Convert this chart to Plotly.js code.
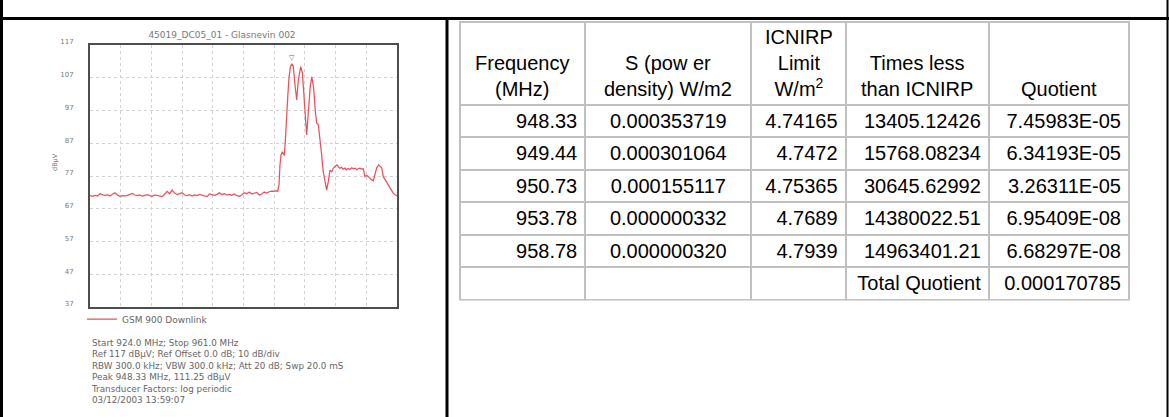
<!DOCTYPE html>
<html>
<head>
<meta charset="utf-8">
<script src="https://cdn.plot.ly/plotly-3.0.1.min.js"></script>
<style>
html,body{margin:0;padding:0;background:#ffffff;}
#chart{width:1169px;height:417px;}
</style>
</head>
<body>
<div id="chart"></div>
<script>
// ---------------- data ----------------
const freqMHz = [
  924.0,924.3,924.6,924.9,925.2,925.5,925.8,926.1,926.4,926.7,
  927.0,927.3,927.6,927.9,928.2,928.5,928.8,929.1,929.4,929.7,
  930.0,930.3,930.6,930.9,931.2,931.5,931.8,932.1,932.4,932.7,
  933.0,933.3,933.6,933.9,934.2,934.5,934.8,935.1,935.4,935.7,
  936.0,936.3,936.6,936.9,937.2,937.5,937.8,938.1,938.4,938.7,
  939.0,939.3,939.6,939.9,940.2,940.5,940.8,941.1,941.4,941.7,
  942.0,942.3,942.6,942.9,943.2,943.5,943.8,944.1,944.4,944.7,
  945.0,945.3,945.6,945.9,946.2,946.5,946.62,946.78,946.9,947.02,
  947.18,947.3,947.42,947.55,947.7,947.85,947.98,948.15,948.33,948.5,
  948.7,948.91,949.1,949.39,949.6,949.8,950.0,950.11,950.3,950.55,
  950.73,950.95,951.15,951.32,951.52,951.7,951.92,952.1,952.24,952.52,
  952.72,952.92,953.13,953.35,953.53,953.78,953.95,954.13,954.3,954.5,
  954.73,954.9,955.1,955.34,955.55,955.75,955.94,956.15,956.35,956.54,
  956.75,956.94,957.14,957.35,957.55,957.75,957.95,958.15,958.35,958.55,
  958.78,959.0,959.15,959.35,959.55,959.76,960.0,960.16,960.4,960.56,
  960.8,961.0
];
const levelDbuv = [
  71.0,70.8,71.1,70.9,71.6,71.2,71.0,71.3,70.9,71.4,
  71.9,71.2,70.8,71.0,70.9,71.1,71.3,71.7,71.2,71.0,
  71.2,70.9,71.1,71.3,71.0,70.8,71.2,71.0,70.9,70.7,
  71.5,72.3,71.6,72.7,71.8,71.3,71.6,71.9,71.2,71.0,
  71.3,70.9,71.2,71.0,71.4,71.1,70.8,70.7,71.5,71.3,
  71.1,71.4,71.9,71.3,71.6,71.2,71.4,71.1,71.5,71.0,
  70.8,71.3,71.9,71.6,72.1,71.5,71.8,72.0,71.2,71.5,
  72.1,71.8,72.2,72.4,72.3,72.5,72.2,74.3,80.5,83.4,
  84.4,84.0,83.3,88.0,96.6,102.0,106.8,110.3,111.25,110.5,
  105.0,100.2,106.0,110.4,108.5,101.0,93.0,89.5,96.0,104.5,
  107.3,104.0,97.0,93.1,92.6,89.0,83.4,78.5,76.3,72.7,
  75.3,78.8,78.3,79.5,79.9,80.4,79.8,79.3,79.7,79.1,
  79.4,78.9,79.3,79.0,79.5,79.2,79.4,78.9,79.3,79.4,
  79.1,79.2,76.8,77.2,76.8,76.2,75.8,75.6,77.5,79.5,
  80.4,80.0,79.5,76.8,76.0,75.3,74.3,73.7,72.5,71.7,
  71.2,71.0
];
const peakFreq = 948.33;
const peakLevel = 111.25;
const yTickVals = [37,47,57,67,77,87,97,107,117];
const xRange = [924, 961];
const yRange = [37, 117];
const chartTitle = '45019_DC05_01 - Glasnevin 002';
const seriesName = 'GSM 900 Downlink';
const yTitle = 'dBµV';
const infoLines = [
  'Start 924.0 MHz; Stop 961.0 MHz',
  'Ref 117 dBµV; Ref Offset 0.0 dB; 10 dB/div',
  'RBW 300.0 kHz; VBW 300.0 kHz; Att 20 dB; Swp 20.0 mS',
  'Peak 948.33 MHz, 111.25 dBµV',
  'Transducer Factors: log periodic',
  '03/12/2003 13:59:07'
];

const tableHeader = [
  'Frequency<br>(MHz)',
  'S (pow er<br>density) W/m2',
  'ICNIRP<br>Limit<br>W/m<sup>2</sup>',
  'Times less<br>than ICNIRP',
  'Quotient'
];
const colFrequency = ['948.33','949.44','950.73','953.78','958.78',''];
const colPowerDensity = ['0.000353719','0.000301064','0.000155117','0.000000332','0.000000320',''];
const colLimit = ['4.74165','4.7472','4.75365','4.7689','4.7939',''];
const colTimesLess = ['13405.12426','15768.08234','30645.62992','14380022.51','14963401.21','Total\u00a0Quotient'];
const colQuotient = ['7.45983E-05','6.34193E-05','3.26311E-05','6.95409E-08','6.68297E-08','0.000170785'];

// ---------------- layout helpers ----------------
const W = 1169, H = 417;
const px = v => v / W;
const py = v => 1 - v / H;
const chartFont = 'DejaVu Sans, Verdana, sans-serif';
const tableFont = 'Liberation Sans, Arial, sans-serif';
const gridStyle = {showgrid:true, gridcolor:'#d2d2d2', griddash:'dot', gridwidth:1,
                   showline:true, mirror:true, linecolor:'#4d4d4d', linewidth:2,
                   zeroline:false, fixedrange:true};

// table geometry (pixels)
const colWidths = [125,166,94,143,140];
const tableLeft = 460, tableRight = 1129, tableTop = 21.5, headerH = 83, rowH = 32.5;
const tableBottom = tableTop + headerH + rowH * colFrequency.length + 1;
const totalColW = colWidths.reduce((a, b) => a + b, 0);
const colCenters = [];
colWidths.reduce((acc, w) => {
  colCenters.push(tableLeft + (acc + w / 2) * (tableRight - tableLeft) / totalColW);
  return acc + w;
}, 0);
const tableTextFont = {family:tableFont, size:20, color:'#000'};

const traces = [
  {
    type:'scatter', mode:'lines', name:seriesName,
    x:freqMHz, y:levelDbuv, xaxis:'x', yaxis:'y',
    line:{color:'#e9525a', width:1.25}, hoverinfo:'skip'
  },
  {
    type:'table',
    domain:{x:[px(tableLeft), px(tableRight)], y:[py(tableBottom), py(tableTop)]},
    columnwidth:colWidths,
    header:{
      values:tableHeader.map(() => ''), align:'center', height:headerH,
      font:tableTextFont, line:{color:'#c0c0c0', width:2}, fill:{color:'#ffffff'}
    },
    cells:{
      values:[colFrequency, colPowerDensity, colLimit, colTimesLess, colQuotient],
      align:['right','center','right','right','right'], height:rowH,
      font:tableTextFont, line:{color:'#c0c0c0', width:2}, fill:{color:'#ffffff'}
    }
  }
];

const headerAnnotations = tableHeader.map((txt, i) => ({
  text:txt, xref:'paper', yref:'paper', x:px(colCenters[i]), y:py(102),
  xanchor:'center', yanchor:'bottom', align:'center', showarrow:false, font:tableTextFont
}));

const layout = {
  width:W, height:H,
  margin:{l:0, r:0, t:0, b:0, pad:0},
  paper_bgcolor:'#ffffff', plot_bgcolor:'#ffffff',
  title:{text:chartTitle, x:px(222), xanchor:'center', y:py(35), yanchor:'middle',
         font:{family:chartFont, size:9, color:'#777'}},
  xaxis:Object.assign({domain:[px(90), px(397)], range:xRange, tick0:924, dtick:3.7,
                       showticklabels:false, ticks:'', anchor:'y'}, gridStyle),
  yaxis:Object.assign({domain:[py(307), py(45)], range:yRange, tickvals:yTickVals,
                       ticks:'outside', ticklen:13, tickcolor:'rgba(0,0,0,0)', ticklabelshift:-3,
                       tickfont:{family:chartFont, size:7, color:'#777'}, anchor:'x'}, gridStyle),
  showlegend:true,
  legend:{x:px(82), xanchor:'left', y:py(319), yanchor:'middle',
          font:{family:chartFont, size:9, color:'#666'}, bgcolor:'rgba(0,0,0,0)', borderwidth:0},
  annotations:[
    {text:yTitle, xref:'paper', yref:'paper', x:px(49), y:py(162), textangle:-90,
     showarrow:false, font:{family:chartFont, size:6.5, color:'#777'}},
    {text:infoLines.join('<br>'), xref:'paper', yref:'paper', x:px(89), y:py(336),
     xanchor:'left', yanchor:'top', align:'left', showarrow:false,
     font:{family:chartFont, size:8.8, color:'#666'}},
    {text:'▽', xref:'x', yref:'y', x:peakFreq, y:peakLevel, yanchor:'bottom',
     showarrow:false, font:{family:chartFont, size:7, color:'#666'}}
  ].concat(headerAnnotations),
  shapes:[
    {type:'line', xref:'paper', yref:'paper', x0:px(1.5), x1:px(1.5), y0:0, y1:1, line:{color:'#000', width:3}},
    {type:'line', xref:'paper', yref:'paper', x0:0, x1:1, y0:py(18.5), y1:py(18.5), line:{color:'#000', width:3}},
    {type:'line', xref:'paper', yref:'paper', x0:px(447), x1:px(447), y0:0, y1:py(18.5), line:{color:'#000', width:3}},
    {type:'line', xref:'paper', yref:'paper', x0:px(1167.5), x1:px(1167.5), y0:0, y1:1, line:{color:'#000', width:2}}
  ]
};

Plotly.newPlot('chart', traces, layout, {displayModeBar:false, staticPlot:true});
</script>
</body>
</html>
